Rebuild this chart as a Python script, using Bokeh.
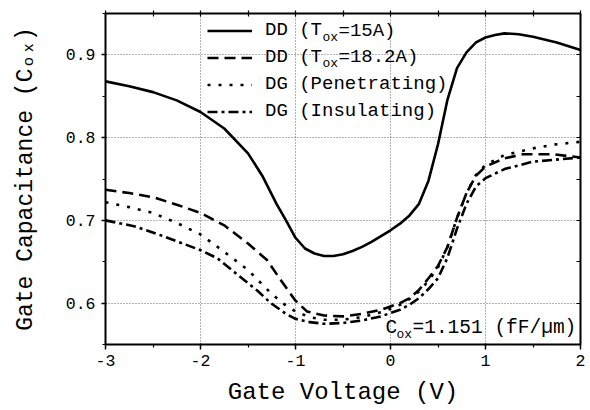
from bokeh.plotting import figure
from bokeh.models import (Range1d, FixedTicker, LinearAxis, Legend, LegendItem, Label)
from bokeh.embed import file_html
from bokeh.resources import INLINE

# ---------------- data ----------------
x_dd15 = [-3, -2.75, -2.5, -2.25, -2, -1.75, -1.5, -1.35, -1.2, -1.1, -1.0, -0.9, -0.8, -0.7,
          -0.6, -0.5, -0.4, -0.3, -0.2, -0.1, 0, 0.1, 0.2, 0.3, 0.4, 0.5, 0.6, 0.7, 0.8, 0.9,
          1.0, 1.1, 1.2, 1.35, 1.5, 1.75, 2.0]
y_dd15 = [0.868, 0.862, 0.855, 0.845, 0.831, 0.811, 0.781, 0.754, 0.720, 0.700, 0.679, 0.666,
          0.660, 0.657, 0.657, 0.659, 0.663, 0.668, 0.674, 0.681, 0.688, 0.696, 0.706, 0.720,
          0.748, 0.792, 0.846, 0.884, 0.903, 0.915, 0.921, 0.924, 0.926, 0.925, 0.922, 0.915,
          0.906]

x_dd18 = [-3, -2.75, -2.5, -2.25, -2, -1.75, -1.5, -1.3, -1.15, -1.0, -0.88, -0.7, -0.5, -0.3,
          -0.1, 0.0, 0.1, 0.2, 0.3, 0.4, 0.5, 0.6, 0.7, 0.8, 0.9, 1.0, 1.2, 1.4, 1.7, 2.0]
y_dd18 = [0.737, 0.733, 0.728, 0.719, 0.709, 0.694, 0.672, 0.652, 0.627, 0.603, 0.590, 0.585,
          0.584, 0.587, 0.592, 0.596, 0.600, 0.606, 0.616, 0.630, 0.645, 0.668, 0.703, 0.733,
          0.754, 0.765, 0.775, 0.780, 0.780, 0.776]

x_dgp = [-3, -2.75, -2.5, -2.25, -2.0, -1.75, -1.5, -1.25, -1.1, -1.0, -0.85, -0.7, -0.5, -0.3,
         -0.1, 0.0, 0.1, 0.2, 0.3, 0.4, 0.5, 0.6, 0.7, 0.8, 0.9, 1.0, 1.2, 1.5, 1.75, 2.0]
y_dgp = [0.722, 0.716, 0.709, 0.697, 0.683, 0.662, 0.640, 0.611, 0.597, 0.590, 0.583, 0.580,
         0.580, 0.583, 0.589, 0.593, 0.598, 0.605, 0.614, 0.627, 0.643, 0.668, 0.703, 0.733,
         0.755, 0.767, 0.779, 0.787, 0.792, 0.795]

x_dgi = [-3, -2.7, -2.42, -2.0, -1.82, -1.65, -1.4, -1.26, -1.1, -1.0, -0.85, -0.7, -0.5, -0.3,
         -0.1, 0.0, 0.1, 0.2, 0.3, 0.4, 0.5, 0.6, 0.7, 0.8, 0.9, 1.0, 1.2, 1.5, 1.8, 2.0]
y_dgi = [0.700, 0.693, 0.682, 0.664, 0.654, 0.638, 0.615, 0.600, 0.587, 0.581, 0.577, 0.575,
         0.576, 0.579, 0.584, 0.588, 0.592, 0.598, 0.606, 0.617, 0.630, 0.655, 0.690, 0.720,
         0.741, 0.751, 0.762, 0.771, 0.774, 0.776]

x_ticks = [-3, -2, -1, 0, 1, 2]
x_tick_labels = ["-3", "-2", "-1", "0", "1", "2"]
y_ticks = [0.6, 0.7, 0.8, 0.9]
y_tick_labels = ["0.6", "0.7", "0.8", "0.9"]
x_minor = [-2.5, -1.5, -0.5, 0.5, 1.5]
y_minor = [0.55, 0.65, 0.75, 0.85, 0.95]

x_title = "Gate Voltage (V)"
y_title = "Gate Capacitance (C\u2092\u2093)"

legend_main = ["DD (T", "DD (T", "DG (Penetrating)", "DG (Insulating)"]
legend_tail = ["=15A)", "=18.2A)", None, None]

FONT = "Liberation Mono"

# ---------------- figure ----------------
p = figure(width=590, height=410, output_backend="svg", toolbar_location=None,
           x_range=Range1d(-3, 2), y_range=Range1d(0.55, 0.95),
           min_border_left=105, min_border_right=10, min_border_top=13, min_border_bottom=66,
           x_axis_location=None, y_axis_location=None)
p.outline_line_color = None
p.background_fill_color = "white"


def base_axis(ax):
    ax.axis_line_width = 2
    ax.axis_line_color = "black"
    ax.major_tick_line_width = 1.5
    ax.minor_tick_line_width = 1.2
    ax.major_tick_line_color = "black"
    ax.minor_tick_line_color = "black"


# bottom axis (labelled)
bottom = LinearAxis(ticker=FixedTicker(ticks=x_ticks, minor_ticks=x_minor))
base_axis(bottom)
bottom.major_tick_in, bottom.major_tick_out = 1, 5
bottom.minor_tick_in, bottom.minor_tick_out = 0, 3
bottom.major_label_overrides = {t: l for t, l in zip(x_ticks, x_tick_labels)}
bottom.major_label_text_font = FONT
bottom.major_label_text_font_size = "16.5px"
bottom.major_label_text_color = "black"
bottom.major_label_standoff = 5
bottom.axis_label = x_title
bottom.axis_label_text_font = FONT
bottom.axis_label_text_font_size = "24px"
bottom.axis_label_text_font_style = "normal"
bottom.axis_label_text_color = "black"
bottom.axis_label_standoff = 10
p.add_layout(bottom, "below")

# left axis (labelled)
left = LinearAxis(ticker=FixedTicker(ticks=y_ticks, minor_ticks=y_minor))
base_axis(left)
left.major_tick_in, left.major_tick_out = 1, 4
left.minor_tick_in, left.minor_tick_out = 0, 3
left.major_label_overrides = {t: l for t, l in zip(y_ticks, y_tick_labels)}
left.major_label_text_font = FONT
left.major_label_text_font_size = "16.5px"
left.major_label_text_color = "black"
left.major_label_standoff = 6
left.axis_label = y_title
left.axis_label_text_font = FONT
left.axis_label_text_font_size = "23px"
left.axis_label_text_font_style = "normal"
left.axis_label_text_color = "black"
left.axis_label_standoff = 24
p.add_layout(left, "left")

# top and right frame axes: ticks only, no labels
top = LinearAxis(ticker=FixedTicker(ticks=[], minor_ticks=sorted(x_ticks + x_minor)))
base_axis(top)
top.minor_tick_in, top.minor_tick_out = 3, 3
p.add_layout(top, "above")

right = LinearAxis(ticker=FixedTicker(ticks=[], minor_ticks=sorted(y_ticks + y_minor)))
base_axis(right)
right.minor_tick_in, right.minor_tick_out = 4, 0
p.add_layout(right, "right")

p.xgrid.ticker = FixedTicker(ticks=x_ticks)
p.ygrid.ticker = FixedTicker(ticks=y_ticks)
for g in (p.xgrid, p.ygrid):
    g.grid_line_color = "#666666"
    g.grid_line_dash = "1 2"
    g.grid_line_width = 1

# ---------------- curves ----------------
r1 = p.line(x_dd15, y_dd15, line_color="black", line_width=2.6)
r2 = p.line(x_dd18, y_dd18, line_color="black", line_width=2.6, line_dash="11 6")
r3 = p.line(x_dgp, y_dgp, line_color="black", line_width=2.6, line_dash="3 8")
r4 = p.line(x_dgi, y_dgi, line_color="black", line_width=2.6, line_dash="10 4 3 4")

legend = Legend(items=[LegendItem(label=t, renderers=[r]) for t, r in zip(legend_main, [r1, r2, r3, r4])],
                location=(102, 222), glyph_width=45, glyph_height=21, label_height=21,
                label_standoff=13, spacing=5, padding=0, margin=0,
                border_line_color=None, background_fill_alpha=0,
                label_text_font=FONT, label_text_font_size="19px", label_text_color="black")
p.add_layout(legend)


def lab(text, x, y, size):
    p.add_layout(Label(text=text, x=x, y=y, x_units="screen", y_units="screen",
                       text_font=FONT, text_font_size=size, text_color="black",
                       text_align="left", text_baseline="middle"))


# legend subscripts (frame-relative screen coords)
row_y = [314, 288]
for i, tail in enumerate(legend_tail):
    if tail is None:
        continue
    lab("ox", 217, row_y[i] - 7, "13px")
    lab(tail, 233, row_y[i], "19px")

# Cox annotation
lab("C", 280, 17, "19.5px")
lab("ox", 291, 10, "13px")
lab("=1.151 (fF/\u00b5m)", 307, 17, "19.5px")

open("out.html", "w").write(file_html(p, INLINE))
